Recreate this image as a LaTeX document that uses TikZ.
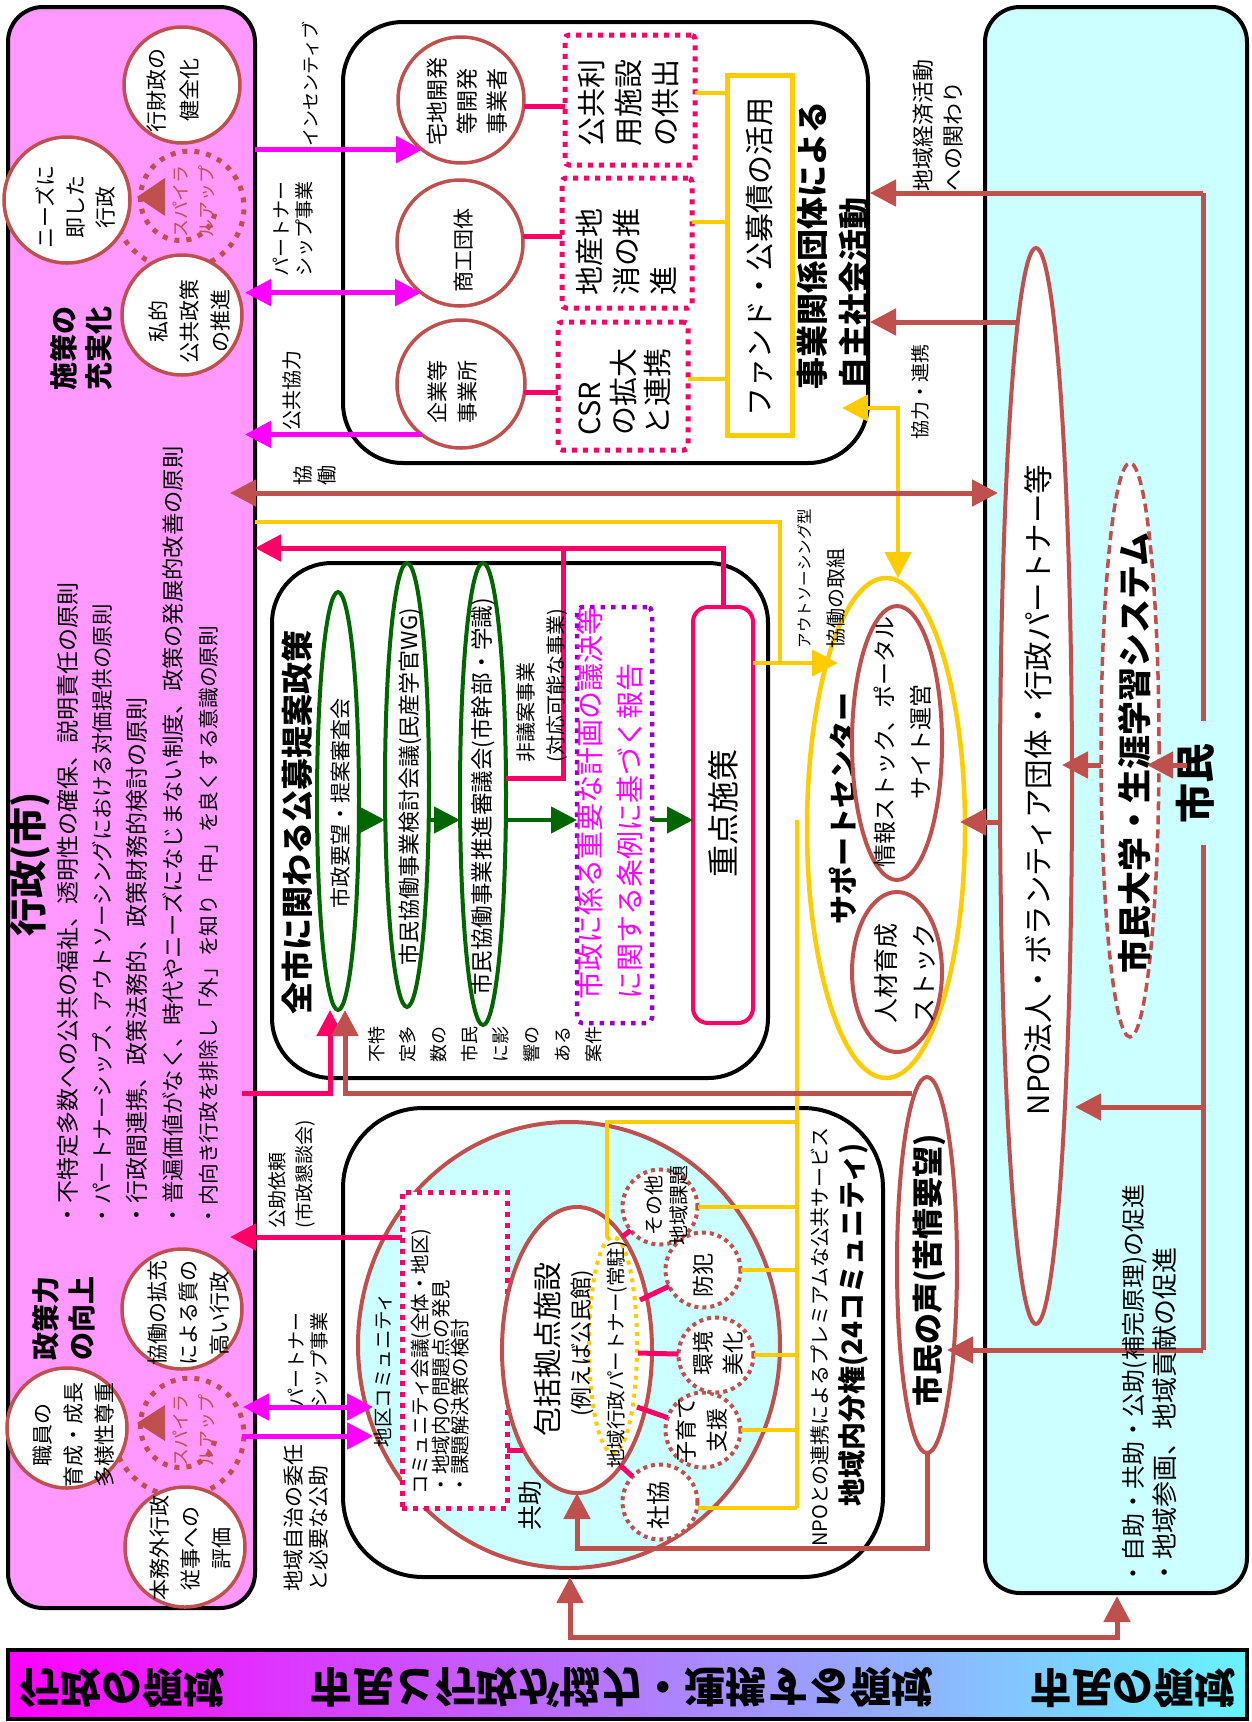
\documentclass[tikz,border=0pt]{standalone}
\usepackage{fontspec}
\usepackage{graphicx}
\setmainfont{Noto Sans CJK JP}
\usetikzlibrary{arrows.meta,shapes.geometric,calc}
\definecolor{pinkbg}{HTML}{FF99FF}
\definecolor{cyanbg}{HTML}{CCFFFF}
\definecolor{brn}{HTML}{C0504D}
\definecolor{mag}{HTML}{FF00FF}
\definecolor{hpk}{HTML}{FF0066}
\definecolor{yel}{HTML}{FFCC00}
\definecolor{dgr}{HTML}{006600}
\definecolor{pur}{HTML}{9900CC}
\definecolor{bandM}{HTML}{CCB0F4}
\definecolor{bandR}{HTML}{66F4FF}
\tikzset{
  bigtri/.tip={Triangle[length=26pt,width=26pt]},
  rt/.style={rotate=90,align=center},
  fs/.style 2 args={font=\fontsize{#1}{#2}\selectfont},
  bfs/.style 2 args={font=\fontsize{#1}{#2}\selectfont\bfseries},
  panel/.style={draw=black,line width=4pt},
  bcirc/.style={circle,draw=brn,line width=3.5pt,fill=white},
  dcirc/.style={circle,draw=brn,line width=4pt,dash pattern=on 4pt off 4pt,fill=white,minimum size=75pt},
  bell/.style={ellipse,draw=brn,line width=4pt,fill=white},
  gell/.style={ellipse,draw=dgr,line width=4pt,fill=white},
  dotbox/.style={draw=hpk,line width=5pt,dash pattern=on 5pt off 6pt},
  spiralline/.style={draw=brn,line width=5pt,dash pattern=on 5pt off 7pt},
  marr/.style={draw=mag,line width=5pt,-bigtri},
  marrr/.style={draw=mag,line width=5pt,bigtri-bigtri},
  barr/.style={draw=brn,line width=5pt,-bigtri},
  barrr/.style={draw=brn,line width=5pt,bigtri-bigtri},
  harr/.style={draw=hpk,line width=5pt,-bigtri},
  hln/.style={draw=hpk,line width=5pt},
  garr/.style={draw=dgr,line width=4.5pt,-bigtri},
  yln/.style={draw=yel,line width=4.5pt},
  yarr/.style={draw=yel,line width=4.5pt,-bigtri},
  yarrr/.style={draw=yel,line width=4.5pt,bigtri-bigtri},
  bln/.style={draw=brn,line width=5pt},
}
\begin{document}
\begin{tikzpicture}[x=1pt,y=-1pt,every node/.style={inner sep=0pt,outer sep=0pt}]
\useasboundingbox (0,0) rectangle (1251,1722);
\fill[white] (0,0) rectangle (1251,1722);

% ---------- panels ----------
\node[panel,fill=pinkbg,rounded corners=35pt,minimum width=247pt,minimum height=1601pt] (gov) at (131.5,807.5) {};
\node[panel,fill=cyanbg,rounded corners=35pt,minimum width=262pt,minimum height=1586pt] (cit) at (1116,800) {};
\node[panel,fill=white,rounded corners=60pt,minimum width=525pt,minimum height=441pt] (biz) at (605.5,242.5) {};
\node[panel,fill=white,rounded corners=60pt,minimum width=496pt,minimum height=515pt] (pol) at (520,820.5) {};
\node[panel,fill=white,rounded corners=80pt,minimum width=540pt,minimum height=469pt] (reg) at (613,1342.5) {};
\node[draw=black,line width=4pt,left color=mag,middle color=bandM,right color=bandR,minimum width=1239pt,minimum height=69pt] (band) at (627.5,1684.5) {};

% ---------- band texts ----------
\node[bfs={41}{41}] (bandL) at (122,1688) {\scalebox{1}[-1]{行政の領域}};
\node[bfs={41.5}{41.5}] (bandC) at (622,1688) {\scalebox{1}[-1]{市民と行政が協力・連携する領域}};
\node[bfs={41}{41}] (bandR) at (1133,1688) {\scalebox{1}[-1]{市民の領域}};

% ---------- administration panel ----------
\draw[spiralline] plot[domain=20:560,samples=140,smooth] ({185+(30+0.08*\x)*cos(\x)},{203+(30+0.08*\x)*sin(\x)});
\fill[brn] (137,197) -- (165,178) -- (165,216) -- cycle;
\node[bcirc,minimum size=116pt] (cz) at (182,85) {};
\node[rt,fs={21}{33}] (tz) at (173,90) {行財政の\\健全化};
\node[bcirc,minimum size=126pt] (cn) at (67,200) {};
\node[rt,fs={21}{30}] (tn) at (75,207) {ニーズに\\即した\\行政};
\node[bcirc,minimum size=120pt] (cs) at (182,315) {};
\node[rt,fs={21}{31}] (ts) at (189,321) {私的\\公共政策\\の推進};
\node[rt,fs={18}{26},text=brn] (sp1) at (194,201) {スパイラ\\ルアップ};
\node[rt,bfs={28}{35}] (sesaku) at (81,348) {施策の\\充実化};

\node[rt,bfs={38}{40}] (govtitle) at (30,864) {行政(市)};
\node[rt,anchor=west,fs={23}{23}] (b1) at (68,1226) {・不特定多数への公共の福祉、透明性の確保、説明責任の原則};
\node[rt,anchor=west,fs={21.5}{23}] (b2) at (102,1226) {・パートナーシップ、アウトソーシングにおける対価提供の原則};
\node[rt,anchor=west,fs={23}{23}] (b3) at (137,1226) {・行政間連携、政策法務的、政策財務的検討の原則};
\node[rt,anchor=west,fs={22.3}{23}] (b4) at (173,1226) {・普遍価値がなく、時代やニーズになじまない制度、政策の発展的改善の原則};
\node[rt,anchor=west,fs={20.7}{23}] (b5) at (209,1226) {・内向き行政を排除し「外」を知り「中」を良くする意識の原則};

\node[rt,bfs={28}{36}] (ryoku) at (64,1318) {政策力\\の向上};
\draw[spiralline] plot[domain=20:560,samples=140,smooth] ({185+(30+0.08*\x)*cos(\x)},{1430+(30+0.08*\x)*sin(\x)});
\fill[brn] (137,1423) -- (165,1405) -- (165,1441) -- cycle;
\node[bcirc,minimum size=120pt] (ck) at (182,1309) {};
\node[rt,fs={21}{31}] (tk) at (189,1313) {協働の拡充\\による質の\\高い行政};
\node[bcirc,minimum size=120pt] (cshok) at (67,1428) {};
\node[rt,fs={21}{31}] (tshok) at (74,1435) {職員の\\育成・成長\\多様性尊重};
\node[bcirc,minimum size=120pt] (ch) at (185,1547) {};
\node[rt,fs={21}{31}] (th) at (190,1548) {本務外行政\\従事への\\評価};
\node[rt,fs={18}{26},text=brn] (sp2) at (194,1430) {スパイラ\\ルアップ};

% ---------- business panel ----------
\node[bcirc,minimum size=126pt] (ctak) at (461,100) {};
\node[rt,fs={22}{30}] (ttak) at (467,101) {宅地開発\\等開発\\事業者};
\node[bcirc,minimum size=126pt] (csho) at (460,243) {};
\node[rt,fs={21}{30}] (tsho) at (464,250) {商工団体};
\node[bcirc,minimum size=128pt] (ckig) at (461,384) {};
\node[rt,fs={21}{30}] (tkig) at (452,392) {企業等\\事業所};

\node[dotbox,rounded corners=4pt,minimum width=130pt,minimum height=130pt] (B1) at (630,100) {};
\node[rt,fs={29}{37}] (tB1) at (629,103) {公共利\\用施設\\の供出};
\node[dotbox,rounded corners=4pt,minimum width=130pt,minimum height=130pt] (B2) at (627,243) {};
\node[rt,anchor=west,align=left,fs={29}{37}] (tB2) at (626,295) {地産地\\消の推\\進};
\node[dotbox,rounded corners=4pt,minimum width=130pt,minimum height=128pt] (B3) at (623,386) {};
\node[rt,anchor=west,align=left,fs={29}{34}] (tB3) at (625,435) {CSR\\の拡大\\と連携};

\draw[hln] (ctak.-6) -- (B1.west |- ctak.-6);
\draw[hln] (csho.6) -- (B2.west |- csho.6);
\draw[hln] (ckig.-8) -- (B3.west |- ckig.-8);

\node[draw=yel,line width=5pt,minimum width=65pt,minimum height=360pt] (fund) at (759.5,255) {};
\node[rt,fs={29}{30}] (tfund) at (760,257) {ファンド・公募債の活用};
\draw[yln] ($(B1.east)+(0,-7)$) -- ($(fund.west |- B1.east)+(0,-7)$);
\draw[yln] ($(B2.east)+(0,-21)$) -- ($(fund.west |- B2.east)+(0,-21)$);
\draw[yln] ($(B3.east)+(0,-7)$) -- ($(fund.west |- B3.east)+(0,-7)$);
\node[rt,anchor=west,align=left,bfs={32}{42}] (jishu) at (833,389) {事業関係団体による\\自主社会活動};

% ---------- policy panel ----------
\node[rt,bfs={32}{34}] (poltitle) at (297,822) {全市に関わる公募提案政策};
\node[gell,minimum width=42pt,minimum height=418pt] (E1) at (338,801) {};
\node[rt,fs={21}{22}] (tE1) at (340,803) {市政要望・提案審査会};
\node[gell,minimum width=44pt,minimum height=444pt] (E2) at (407,785) {};
\node[rt,fs={22}{22}] (tE2) at (410,787) {市民協働事業検討会議(民産学官WG)};
\node[gell,minimum width=46pt,minimum height=462pt] (E3) at (483,794) {};
\node[rt,fs={22.5}{23}] (tE3) at (483,797) {市民協働事業推進審議会(市幹部・学識)};
\node[draw=pur,line width=4.5pt,dash pattern=on 4.5pt off 6pt,rounded corners=5pt,minimum width=75pt,minimum height=416pt] (P) at (614.5,815) {};
\node[rt,anchor=west,align=left,fs={28}{40},text=mag] (tP) at (610,999) {市政に係る重要な計画の議決等\\に関する条例に基づく報告};
\node[draw=hpk,line width=4pt,rounded corners=15pt,minimum width=60pt,minimum height=416pt] (J) at (723,815) {};
\node[rt,fs={32}{34}] (tJ) at (723,813) {重点施策};
\node[rt,align=left,fs={18}{31}] (fuku) at (485,1044) {不特\\定多\\数の\\市民\\に影\\響の\\ある\\案件};

\coordinate (gy) at (0,820);
\draw[garr] (E1.east |- gy) -- (E2.west |- gy);
\draw[garr] (E2.east |- gy) -- (E3.west |- gy);
\draw[garr] (E3.east |- gy) -- (P.west |- gy);
\draw[garr] (P.east |- gy) -- (J.west |- gy);

\coordinate (hy) at (0,548);
\draw[harr] (J.north) |- (gov.east |- hy);
\coordinate (nb) at (563,778);
\draw[hln] (E3.east |- nb) -- (nb) -- (nb |- hy);
\node[rt,anchor=west,align=left,fs={20}{30}] (higian) at (542,762) {非議案事業\\(対応可能な事業)};

\coordinate (yA) at (780,522);
\coordinate (yB) at (780,663);
\coordinate (yC) at (838,663);
\draw[yln] (gov.east |- yA) -- (yA) -- (yB);

% ---------- support center ----------
\node[ellipse,draw=yel,line width=4.5pt,fill=white,minimum width=158pt,minimum height=500pt] (sup) at (886,828) {};
\node[rt,bfs={29}{30}] (tsup) at (843,808) {サポートセンター};
\node[bell,minimum width=90pt,minimum height=274pt] (info) at (897,743) {};
\node[rt,fs={23}{36}] (tinfo) at (903,742) {情報ストック、ポータル\\サイト運営};
\node[bell,minimum width=90pt,minimum height=160pt] (jinzai) at (897,972) {};
\node[rt,fs={25}{38}] (tjinzai) at (905,973) {人材育成\\ストック};
\draw[yarr] (J.east |- yB) -- (yC);
\coordinate (jsE) at (842,408);
\coordinate (yD) at (898,408);
\draw[yarrr] (jsE) -- (yD) -- (yD |- sup.north);
\node[rt,anchor=west,fs={15.5}{16}] (outs1) at (805,648) {アウトソーシング型};
\node[rt,anchor=west,fs={20}{20}] (outs2) at (836,648) {協働の取組};

% ---------- citizens panel ----------
\node[bell,minimum width=72pt,minimum height=1076pt] (npo) at (1036,786) {};
\node[rt,fs={29.5}{30}] (tnpo) at (1038,790) {NPO法人・ボランティア団体・行政パートナー等};
\node[ellipse,draw=brn,line width=3.5pt,dash pattern=on 9pt off 5pt,fill=white,minimum width=58pt,minimum height=574pt] (univ) at (1130,750) {};
\node[rt,bfs={34}{36}] (tuniv) at (1135,753) {市民大学・生涯学習システム};

\coordinate (tT) at (1203,193);
\coordinate (tB) at (1203,1350);
\draw[bln] (tT) -- (tB);
\node[rt,bfs={40}{42},fill=cyanbg,inner xsep=22pt,inner ysep=4pt] (shimin) at (1195,783) {市民};
\coordinate (jsR) at (870,193);
\draw[barr] (tT) -- (jsR);
\coordinate (tN) at (1203,1107);
\coordinate (nR) at (1075,1107);
\draw[barr] (tN) -- (nR);
\node[bell,minimum width=60pt,minimum height=376pt] (koe) at (927,1265) {};
\node[rt,bfs={31}{32}] (tkoe) at (929,1270) {市民の声(苦情要望)};
\coordinate (kR) at (947,1350);
\draw[barr] (tB) -- (kR);
\coordinate (sL) at (1187,765);
\coordinate (uR) at (1147,765);
\draw[barr] (sL) -- (uR);
\coordinate (uL) at (1101,765);
\coordinate (nL) at (1062,765);
\draw[barr] (uL) -- (nL);
\coordinate (nA) at (1016,322);
\coordinate (jsR2) at (870,322);
\draw[barr] (nA) -- (jsR2);
\coordinate (nB) at (999,822);
\coordinate (sR) at (960,822);
\draw[barr] (nB) -- (sR);
\coordinate (kyL) at (230,493);
\coordinate (kyR) at (998,493);
\draw[barrr] (kyL) -- (kyR);

\node[rt,anchor=west,fs={24}{24}] (cb1) at (1135,1585) {・自助・共助・公助(補完原理)の促進};
\node[rt,anchor=west,fs={26}{26}] (cb2) at (1165,1585) {・地域参画、地域貢献の促進};

% ---------- labels between panels ----------
\node[rt,anchor=west,align=left,fs={22}{30}] (keizai) at (938,191) {地域経済活動\\への関わり};
\node[rt,fs={19}{20}] (kyoryoku) at (920,392) {協力・連携};
\node[rt,fs={18}{20}] (incent) at (310,84) {インセンティブ};
\node[rt,fs={19}{23}] (pship1) at (293,229) {パートナー\\シップ事業};
\node[rt,fs={20}{22}] (kokyo) at (292,390) {公共協力};
\node[rt,fs={20}{24}] (kyodo) at (315,475) {協\\働};

\draw[marr] (gov.east |- ctak.232.5) -- (ctak.232.5);
\draw[marrr] ($(gov.east |- csho.232.5)+(-10,0)$) -- (csho.232.5);
\draw[marr] (ckig.232.8) -- ($(gov.east |- ckig.232.8)+(-10,0)$);

% ---------- regional panel ----------
\node[bell,fill=cyanbg,minimum width=422pt,minimum height=446pt] (comm) at (569,1345) {};
\node[dotbox,fill=white,minimum width=105pt,minimum height=316pt] (cbox) at (454.5,1350) {};
\node[rt,fs={19.5}{20}] (tcomm) at (383,1370) {地区コミュニティ};
\node[rt,anchor=west,align=left,fs={19.5}{17.5}] (tcbox) at (440,1494) {コミュニティ会議(全体・地区)\\・地域内の問題点の発見\\・課題解決策の検討};
\node[bell,minimum width=150pt,minimum height=286pt] (hok) at (577,1350) {};
\node[ellipse,draw=yel,line width=4pt,dash pattern=on 4pt off 5pt,minimum width=48pt,minimum height=216pt] (ydot) at (613,1345) {};
\node[rt,fs={29}{30}] (thok1) at (547,1349) {包括拠点施設};
\node[rt,fs={22}{24}] (thok2) at (582,1343) {(例えば公民館)};
\node[rt,fs={19.5}{20}] (tydot) at (617,1355) {地域行政パートナー(常駐)};

\node[dcirc] (sk) at (660,1502) {};
\node[rt,fs={24}{26}] (tsk) at (658,1505) {社協};
\node[dcirc] (ko) at (703,1430) {};
\node[rt,fs={22}{31}] (tko) at (702,1430) {子育て\\支援};
\node[dcirc] (kn) at (716,1355) {};
\node[rt,fs={22}{30}] (tkn) at (718,1353) {環境\\美化};
\node[dcirc] (bo) at (703,1270) {};
\node[rt,fs={22}{24}] (tbo) at (703,1275) {防犯};
\node[dcirc] (so) at (660,1207) {};
\node[rt,fs={20}{25}] (tso) at (666,1205) {その他\\地域課題};

\draw[hln] (620,1465) -- (sk);
\draw[hln] (637,1407) -- (ko);
\draw[hln] (638,1353) -- (kn);
\draw[hln] (640,1300) -- (bo);
\draw[hln] (622,1237) -- (so);
\coordinate (cbH) at (507,1450);
\draw[hln] (cbH) -- (523,1450);

\coordinate (yv1) at (797,820);
\coordinate (yv2) at (797,1508);
\draw[yln] (yv1) -- (yv2);
\coordinate (yb0) at (797,1122);
\draw[yln] (yb0) -- (607,1122) -- (607,1238);
\draw[yln] (so.east) -- (so.east -| yv1);
\draw[yln] (bo.east) -- (bo.east -| yv1);
\draw[yln] (kn.east) -- (kn.east -| yv1);
\draw[yln] (ko.east) -- (ko.east -| yv1);
\draw[yln] ($(sk.east)+(0,6)$) -- (yv2);

\node[rt,fs={25}{26}] (kyojo) at (530,1505) {共助};
\node[rt,fs={20}{20}] (npolink) at (820,1337) {NPOとの連携によるプレミアムな公共サービス};
\node[rt,bfs={28}{30}] (regtitle) at (853,1325) {地域内分権(24コミュニティ)};
\node[rt,anchor=west,align=left,fs={19}{27}] (kojo) at (292,1228) {公助依頼\\(市政懇談会)};
\node[rt,fs={19}{23}] (pship2) at (308,1360) {パートナー\\シップ事業};
\node[rt,anchor=west,align=left,fs={21}{25}] (jichi) at (306,1591) {地域自治の委任\\と必要な公助};

\coordinate (kjL) at (230,1237);
\draw[harr] (cbox.west |- kjL) -- (kjL);
\draw[marrr] (243,1407) -- (373,1407);
\draw[marr] (242,1436) -- (373,1436);
\coordinate (pkA) at (242,1093);
\coordinate (pkB) at (330,1093);
\draw[harr] (pkA) -- (pkB) -- (pkB |- E1.south);
\coordinate (brA) at (912,1093);
\coordinate (brB) at (345,1093);
\draw[barr] (brA) -- (brB) -- (brB |- E1.south);
\coordinate (kb) at (577,1548);
\draw[barr] (koe.south) |- (kb) -- (hok.south);
\coordinate (rgA) at (570,1637);
\coordinate (rgB) at (1117,1637);
\draw[barrr] (rgA |- reg.south) -- (rgA) -- (rgB) -- ($(rgB |- cit.south)+(0,3)$);
\end{tikzpicture}
\end{document}
